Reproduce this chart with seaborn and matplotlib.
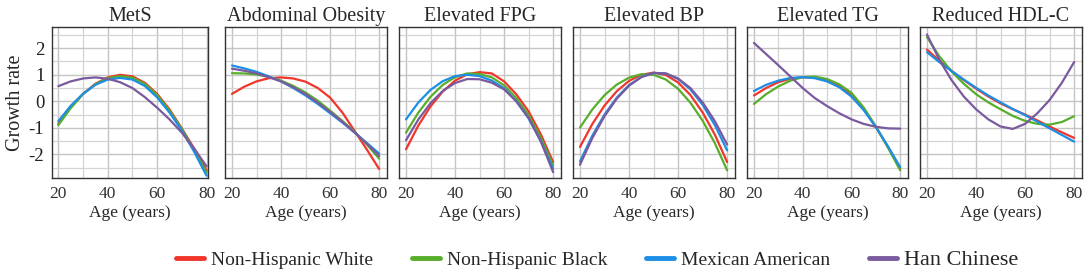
import pandas as pd
import seaborn as sns
import matplotlib.pyplot as plt
from matplotlib.lines import Line2D

ages = [20, 25, 30, 35, 40, 45, 50, 55, 60, 65, 70, 75, 80]
panels = ["MetS", "Abdominal Obesity", "Elevated FPG", "Elevated BP", "Elevated TG", "Reduced HDL-C"]
groups = ["Non-Hispanic White", "Non-Hispanic Black", "Mexican American", "Han Chinese"]
colors = ["#F0362B", "#57AE2A", "#1C8EE6", "#7A5A9E"]

# growth rate, one list per group and panel
mets_white = [-0.85, -0.22, 0.28, 0.66, 0.90, 1.00, 0.94, 0.70, 0.28, -0.30, -1.02, -1.78, -2.60]
mets_black = [-0.90, -0.26, 0.27, 0.64, 0.87, 0.95, 0.89, 0.66, 0.23, -0.35, -1.05, -1.83, -2.68]
mets_mex = [-0.75, -0.17, 0.28, 0.62, 0.82, 0.88, 0.82, 0.58, 0.15, -0.42, -1.10, -1.90, -2.80]
mets_han = [0.57, 0.75, 0.86, 0.90, 0.85, 0.72, 0.50, 0.16, -0.24, -0.68, -1.18, -1.78, -2.45]

ao_white = [0.28, 0.55, 0.75, 0.87, 0.90, 0.86, 0.74, 0.50, 0.14, -0.42, -1.12, -1.82, -2.55]
ao_black = [1.06, 1.05, 1.01, 0.92, 0.78, 0.58, 0.33, 0.02, -0.35, -0.74, -1.15, -1.63, -2.16]
ao_mex = [1.35, 1.24, 1.11, 0.94, 0.75, 0.50, 0.22, -0.10, -0.45, -0.80, -1.18, -1.57, -1.97]
ao_han = [1.23, 1.15, 1.05, 0.91, 0.75, 0.53, 0.27, -0.05, -0.40, -0.77, -1.17, -1.60, -2.06]

fpg_white = [-1.81, -0.92, -0.19, 0.37, 0.78, 1.02, 1.10, 1.05, 0.75, 0.26, -0.38, -1.25, -2.29]
fpg_black = [-1.18, -0.43, 0.17, 0.62, 0.91, 1.05, 1.03, 0.90, 0.60, 0.12, -0.52, -1.38, -2.42]
fpg_mex = [-0.68, -0.05, 0.43, 0.76, 0.95, 1.00, 0.95, 0.78, 0.49, 0.00, -0.65, -1.50, -2.54]
fpg_han = [-1.47, -0.69, -0.07, 0.39, 0.69, 0.84, 0.83, 0.70, 0.45, 0.00, -0.62, -1.52, -2.67]

bp_white = [-1.72, -0.86, -0.16, 0.38, 0.77, 1.00, 1.08, 0.99, 0.71, 0.24, -0.42, -1.26, -2.29]
bp_black = [-0.99, -0.31, 0.23, 0.63, 0.89, 1.02, 1.00, 0.82, 0.47, -0.05, -0.73, -1.58, -2.60]
bp_mex = [-2.27, -1.30, -0.50, 0.14, 0.61, 0.92, 1.07, 1.05, 0.84, 0.45, -0.13, -0.90, -1.85]
bp_han = [-2.39, -1.39, -0.56, 0.10, 0.59, 0.91, 1.07, 1.05, 0.86, 0.50, -0.04, -0.75, -1.63]

tg_white = [0.22, 0.50, 0.72, 0.85, 0.91, 0.89, 0.78, 0.57, 0.24, -0.28, -0.96, -1.72, -2.55]
tg_black = [-0.10, 0.27, 0.56, 0.78, 0.91, 0.93, 0.84, 0.64, 0.32, -0.23, -0.95, -1.75, -2.60]
tg_mex = [0.39, 0.62, 0.78, 0.88, 0.91, 0.87, 0.75, 0.53, 0.18, -0.33, -0.97, -1.70, -2.48]
tg_han = [2.20, 1.78, 1.36, 0.93, 0.50, 0.12, -0.18, -0.45, -0.68, -0.85, -0.96, -1.02, -1.03]

hdl_white = [1.95, 1.53, 1.15, 0.80, 0.48, 0.18, -0.08, -0.30, -0.50, -0.72, -0.95, -1.17, -1.38]
hdl_black = [2.42, 1.70, 1.13, 0.66, 0.27, -0.04, -0.30, -0.55, -0.74, -0.85, -0.88, -0.78, -0.56]
hdl_mex = [1.85, 1.48, 1.14, 0.82, 0.51, 0.22, -0.04, -0.29, -0.52, -0.77, -1.02, -1.27, -1.52]
hdl_han = [2.52, 1.57, 0.80, 0.18, -0.30, -0.68, -0.95, -1.04, -0.85, -0.45, 0.05, 0.70, 1.48]

series = {
    "MetS": [mets_white, mets_black, mets_mex, mets_han],
    "Abdominal Obesity": [ao_white, ao_black, ao_mex, ao_han],
    "Elevated FPG": [fpg_white, fpg_black, fpg_mex, fpg_han],
    "Elevated BP": [bp_white, bp_black, bp_mex, bp_han],
    "Elevated TG": [tg_white, tg_black, tg_mex, tg_han],
    "Reduced HDL-C": [hdl_white, hdl_black, hdl_mex, hdl_han],
}

rows = []
for p in panels:
    for g, vals in zip(groups, series[p]):
        for a, v in zip(ages, vals):
            rows.append({"panel": p, "group": g, "age": a, "rate": v})
df = pd.DataFrame(rows)

sns.set_style("white")
plt.rcParams["font.family"] = ["Liberation Serif", "DejaVu Serif"]
plt.rcParams["axes.unicode_minus"] = False

W, H = 1084, 272
fig = plt.figure(figsize=(10.84, 2.72), dpi=100)

# panel boxes in pixels (left, right)
boxes = [(52, 208), (225, 387), (399, 561), (573, 735), (747, 908), (920, 1082)]
top, bottom = 27, 178

for i, p in enumerate(panels):
    l, r = boxes[i]
    ax = fig.add_axes([l / W, 1 - bottom / H, (r - l) / W, (bottom - top) / H])
    sns.lineplot(data=df[df.panel == p], x="age", y="rate", hue="group",
                 hue_order=groups, palette=colors, linewidth=1.6,
                 legend=False, ax=ax)
    if i == 0:
        ax.set_xlim(17.45, 80.6)
    else:
        ax.set_xlim(17.15, 83.2)
    ax.set_ylim(-2.89, 2.80)
    ax.set_xticks([20, 40, 60, 80])
    ax.set_xticks([30, 50, 70], minor=True)
    ax.set_yticks([-2, -1, 0, 1, 2])
    ax.set_yticks([-2.5, -1.5, -0.5, 0.5, 1.5, 2.5], minor=True)
    ax.grid(which="major", color="#C4C4C4", linewidth=1.0)
    ax.grid(which="minor", color="#D4D4D4", linewidth=0.9)
    ax.set_axisbelow(True)
    for s in ax.spines.values():
        s.set_color("#333333")
        s.set_linewidth(1.0)
    ax.tick_params(axis="x", which="major", length=3.5, width=1, color="#333333",
                   labelsize=12.5, pad=2.5, labelcolor="#333333")
    ax.tick_params(axis="both", which="minor", length=0)
    if i == 0:
        ax.tick_params(axis="y", which="major", length=3.5, width=1, color="#333333",
                       labelsize=13.5, pad=2, labelcolor="#222222")
        ax.set_ylabel("Growth rate", fontsize=14.5, labelpad=3)
    else:
        ax.tick_params(axis="y", which="major", length=0, labelleft=False)
        ax.set_ylabel("")
    ax.set_xlabel("Age (years)", fontsize=12.5, labelpad=2)
    ax.set_title(p, fontsize=14.5, pad=4)

handles = [Line2D([0], [0], color=c, linewidth=3.5) for c in colors]
leg = fig.legend(handles, groups, loc="center", bbox_to_anchor=(0.551, 0.042),
                 ncol=4, frameon=False, fontsize=14, handlelength=1.45,
                 handletextpad=0.35, columnspacing=2.0)
leg.get_texts()[3].set_fontsize(16)

fig.savefig("out.png", dpi=100)
